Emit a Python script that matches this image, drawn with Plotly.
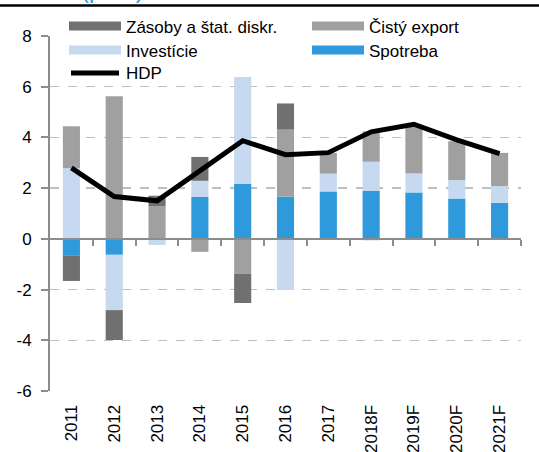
import plotly.graph_objects as go

# ---- data ----
years = ["2011", "2012", "2013", "2014", "2015", "2016", "2017",
         "2018F", "2019F", "2020F", "2021F"]
spotreba = [-0.67, -0.63, 0.0, 1.65, 2.17, 1.67, 1.87, 1.90, 1.83, 1.59, 1.42]
investicie = [2.79, -2.18, -0.24, 0.64, 4.21, -2.02, 0.70, 1.14, 0.75, 0.73, 0.66]
cisty_export = [1.65, 5.62, 1.28, -0.51, -1.38, 2.64, 0.82, 1.20, 1.90, 1.53, 1.31]
zasoby = [-0.99, -1.18, 0.42, 0.94, -1.15, 1.03, 0.0, -0.05, 0.0, 0.0, 0.0]
hdp = [2.80, 1.67, 1.50, 2.70, 3.87, 3.32, 3.40, 4.22, 4.52, 3.90, 3.36]

y_ticks = [-6, -4, -2, 0, 2, 4, 6, 8]
unit_label = "(p. b.)"

names = {
    "zas": "Zásoby a štat. diskr.",
    "exp": "Čistý export",
    "inv": "Investície",
    "spo": "Spotreba",
    "hdp": "HDP",
}
colors = {
    "spo": "#2E9ADB",
    "inv": "#C6D9F0",
    "exp": "#A0A0A0",
    "zas": "#707070",
    "hdp": "#000000",
}

# ---- layout geometry ----
W, H = 539, 452
ML, MR, MT, MB = 50, 18, 36, 61
PW, PH = W - ML - MR, H - MT - MB
YMIN, YMAX = -6, 8
FONT = "Liberation Sans, Arial, sans-serif"


def px_x(x):
    return (x - ML) / PW


def px_y(y):
    return (H - MB - y) / PH


fig = go.Figure()

for key, vals in [("spo", spotreba), ("inv", investicie),
                  ("exp", cisty_export), ("zas", zasoby)]:
    fig.add_trace(go.Bar(
        x=years, y=vals, name=names[key], width=0.4,
        marker=dict(color=colors[key], line=dict(width=0)),
        showlegend=False,
    ))

fig.add_trace(go.Scatter(
    x=years, y=hdp, name=names["hdp"], mode="lines",
    line=dict(color=colors["hdp"], width=5),
    showlegend=False,
))

# invisible helper trace for the zero-line axis with boundary ticks
fig.add_trace(go.Scatter(
    x=[0], y=[0], xaxis="x2", yaxis="y", mode="markers",
    marker=dict(opacity=0), hoverinfo="skip", showlegend=False,
))

# ---- custom legend (wide swatches, two columns) ----
legend_items = [
    ("zas", 69, 26, "rect"),
    ("exp", 312, 26, "rect"),
    ("inv", 69, 50, "rect"),
    ("spo", 312, 50, "rect"),
    ("hdp", 69, 73, "line"),
]
shapes = []
annotations = []
for key, x0, yc, kind in legend_items:
    x1 = x0 + 52
    if kind == "rect":
        shapes.append(dict(
            type="rect", xref="paper", yref="paper",
            x0=px_x(x0), x1=px_x(x1), y0=px_y(yc + 4.5), y1=px_y(yc - 4.5),
            fillcolor=colors[key], line=dict(width=0), layer="above",
        ))
    else:
        shapes.append(dict(
            type="line", xref="paper", yref="paper",
            x0=px_x(x0 + 2), x1=px_x(x1 - 2), y0=px_y(yc), y1=px_y(yc),
            line=dict(color=colors[key], width=5), layer="above",
        ))
    annotations.append(dict(
        text=names[key], xref="paper", yref="paper",
        x=px_x(x1 + 3), y=px_y(yc + 1), xanchor="left", yanchor="middle",
        showarrow=False, font=dict(family=FONT, size=17, color="#000000"),
    ))

# top black rule and the cropped blue heading
shapes.append(dict(
    type="line", xref="paper", yref="paper",
    x0=-0.2, x1=1.2, y0=px_y(5.5), y1=px_y(5.5),
    line=dict(color="#000000", width=2.5),
))
annotations.append(dict(
    text=unit_label, xref="paper", yref="paper",
    x=px_x(80), y=px_y(4), xanchor="left", yanchor="bottom",
    showarrow=False, borderpad=0,
    font=dict(family=FONT, size=24, color="#2E9ADB"),
))

axis_gray = "#8C8C8C"

fig.update_layout(
    width=W, height=H,
    margin=dict(l=ML, r=MR, t=MT, b=MB, autoexpand=False),
    paper_bgcolor="white", plot_bgcolor="white",
    barmode="relative",
    font=dict(family=FONT, size=17, color="#000000"),
    shapes=shapes,
    annotations=annotations,
    xaxis=dict(
        type="category", categoryorder="array", categoryarray=years,
        range=[-0.5, len(years) - 0.5],
        tickangle=-90, ticks="outside", ticklen=6,
        tickcolor="rgba(0,0,0,0)",
        showline=False, showgrid=False, zeroline=False,
        tickfont=dict(family=FONT, size=17, color="#000000"),
        automargin=False, fixedrange=True,
    ),
    xaxis2=dict(
        overlaying="x", anchor="free",
        position=(0 - YMIN) / (YMAX - YMIN),
        range=[-0.5, len(years) - 0.5],
        tickvals=[i + 0.5 for i in range(len(years))],
        ticks="outside", ticklen=6, tickwidth=2, tickcolor=axis_gray,
        showticklabels=False, showline=True, linecolor=axis_gray,
        linewidth=2, showgrid=False, zeroline=False, automargin=False,
    ),
    yaxis=dict(
        range=[YMIN, YMAX], tickvals=y_ticks,
        ticktext=[str(v) for v in y_ticks],
        ticks="outside", ticklen=7, tickwidth=2, tickcolor=axis_gray,
        showline=True, linecolor=axis_gray, linewidth=2,
        showgrid=True, gridcolor="#BFBFBF", griddash="dash", gridwidth=1.5,
        zeroline=False, ticklabelstandoff=6,
        tickfont=dict(family=FONT, size=17, color="#000000"),
        automargin=False, fixedrange=True,
    ),
)

fig.write_html(
    "out.html",
    config={"displayModeBar": False, "staticPlot": True},
    post_script="document.body.style.margin='0px';"
                "document.body.style.overflow='hidden';",
)
